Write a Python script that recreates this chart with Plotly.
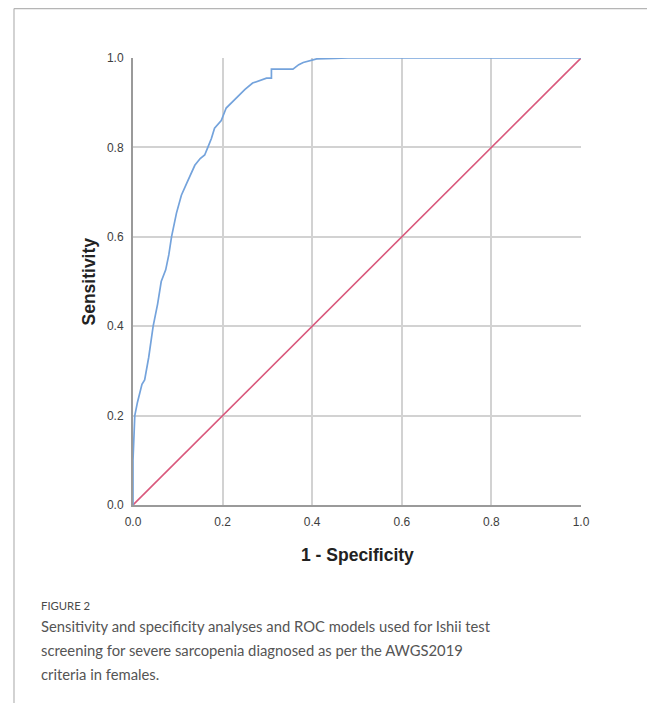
import plotly.graph_objects as go

# ROC curve (1 - specificity, sensitivity)
fpr = [0.0, 0.0, 0.002, 0.004, 0.010, 0.015, 0.020, 0.026, 0.035, 0.045, 0.055, 0.063,
       0.073, 0.080, 0.086, 0.097, 0.108, 0.120, 0.138, 0.150, 0.160, 0.167, 0.175,
       0.182, 0.197, 0.208, 0.230, 0.250, 0.267, 0.285, 0.298, 0.309, 0.309, 0.357,
       0.370, 0.380, 0.400, 0.410, 0.450, 0.480, 1.0]
tpr = [0.0, 0.10, 0.15, 0.20, 0.23, 0.25, 0.27, 0.28, 0.33, 0.40, 0.45, 0.50,
       0.526, 0.56, 0.60, 0.653, 0.693, 0.72, 0.76, 0.775, 0.783, 0.80, 0.82,
       0.843, 0.86, 0.888, 0.91, 0.93, 0.944, 0.95, 0.955, 0.955, 0.975, 0.975,
       0.985, 0.99, 0.996, 0.998, 0.999, 1.0, 1.0]

# Reference (chance) line
ref_x = [0.0, 1.0]
ref_y = [0.0, 1.0]

tick_vals = [0.0, 0.2, 0.4, 0.6, 0.8, 1.0]
tick_text = ["0.0", "0.2", "0.4", "0.6", "0.8", "1.0"]

x_title = "1 - Specificity"
y_title = "Sensitivity"
fig_label = "FIGURE 2"
caption_lines = [
    "Sensitivity and specificity analyses and ROC models used for Ishii test",
    "screening for severe sarcopenia diagnosed as per the AWGS2019",
    "criteria in females.",
]

fig = go.Figure()
fig.add_trace(go.Scatter(x=ref_x, y=ref_y, mode="lines",
                         line=dict(color="#d9587c", width=1.6), showlegend=False,
                         hoverinfo="skip"))
fig.add_trace(go.Scatter(x=fpr, y=tpr, mode="lines",
                         line=dict(color="#74a3dc", width=1.7), showlegend=False))

OFF = 8  # page body margin
W, H = 655 - OFF, 703 - OFF
L, R, T, B = 133 - OFF, 655 - 581, 58 - OFF, 703 - 505
fig.update_layout(
    width=W, height=H,
    margin=dict(l=L, r=R, t=T, b=B, pad=0),
    paper_bgcolor="white", plot_bgcolor="white",
    font=dict(family="Liberation Sans, Arial, sans-serif", color="#333"),
)
fig.update_xaxes(range=[0, 1], tickvals=tick_vals, ticktext=tick_text,
                 showgrid=True, gridcolor="#d2d2d2", gridwidth=1.5,
                 showline=True, linecolor="#9a9a9a", linewidth=2,
                 zeroline=False, ticks="", ticklabelstandoff=5,
                 tickfont=dict(size=12, color="#3e3e3e"), fixedrange=True)
fig.update_yaxes(range=[0, 1], tickvals=tick_vals, ticktext=tick_text,
                 showgrid=True, gridcolor="#d2d2d2", gridwidth=1.5,
                 showline=True, linecolor="#9a9a9a", linewidth=2,
                 zeroline=False, ticks="", ticklabelstandoff=5,
                 tickfont=dict(size=12, color="#3e3e3e"), fixedrange=True)

pw, ph = W - L - R, H - T - B
def px(xp):  # page x -> paper
    return (xp - OFF - L) / pw
def py(yp):  # page y -> paper
    return (H - B - (yp - OFF)) / ph

# outer frame (top and left)
fig.add_shape(type="line", xref="paper", yref="paper",
              x0=px(14), x1=px(660), y0=py(8.6), y1=py(8.6),
              line=dict(color="#b5b5b5", width=1.2))
fig.add_shape(type="line", xref="paper", yref="paper",
              x0=px(14), x1=px(14), y0=py(8.6), y1=py(710),
              line=dict(color="#b5b5b5", width=1.2))

# axis titles
fig.add_annotation(text="<b>" + x_title + "</b>", xref="paper", yref="paper",
                   x=0.5, y=py(555), showarrow=False, xanchor="center", yanchor="middle",
                   font=dict(size=17.5, color="#222", family="Liberation Sans, Arial, sans-serif"))
fig.add_annotation(text="<b>" + y_title + "</b>", xref="paper", yref="paper",
                   x=px(88), y=0.5, showarrow=False, xanchor="center", yanchor="middle",
                   textangle=-90,
                   font=dict(size=17.5, color="#222", family="Liberation Sans, Arial, sans-serif"))

# caption
fig.add_annotation(text=fig_label, xref="paper", yref="paper",
                   x=px(39), y=py(605), showarrow=False, xanchor="left", yanchor="middle",
                   font=dict(size=11.3, color="#4a4a4a", family="Lato, sans-serif"))
for i, line in enumerate(caption_lines):
    fig.add_annotation(text=line, xref="paper", yref="paper",
                       x=px(39), y=py(626 + 24 * i), showarrow=False,
                       xanchor="left", yanchor="middle",
                       font=dict(size=14.8, color="#555", family="Lato, sans-serif"))

fig.write_html("out.html")
